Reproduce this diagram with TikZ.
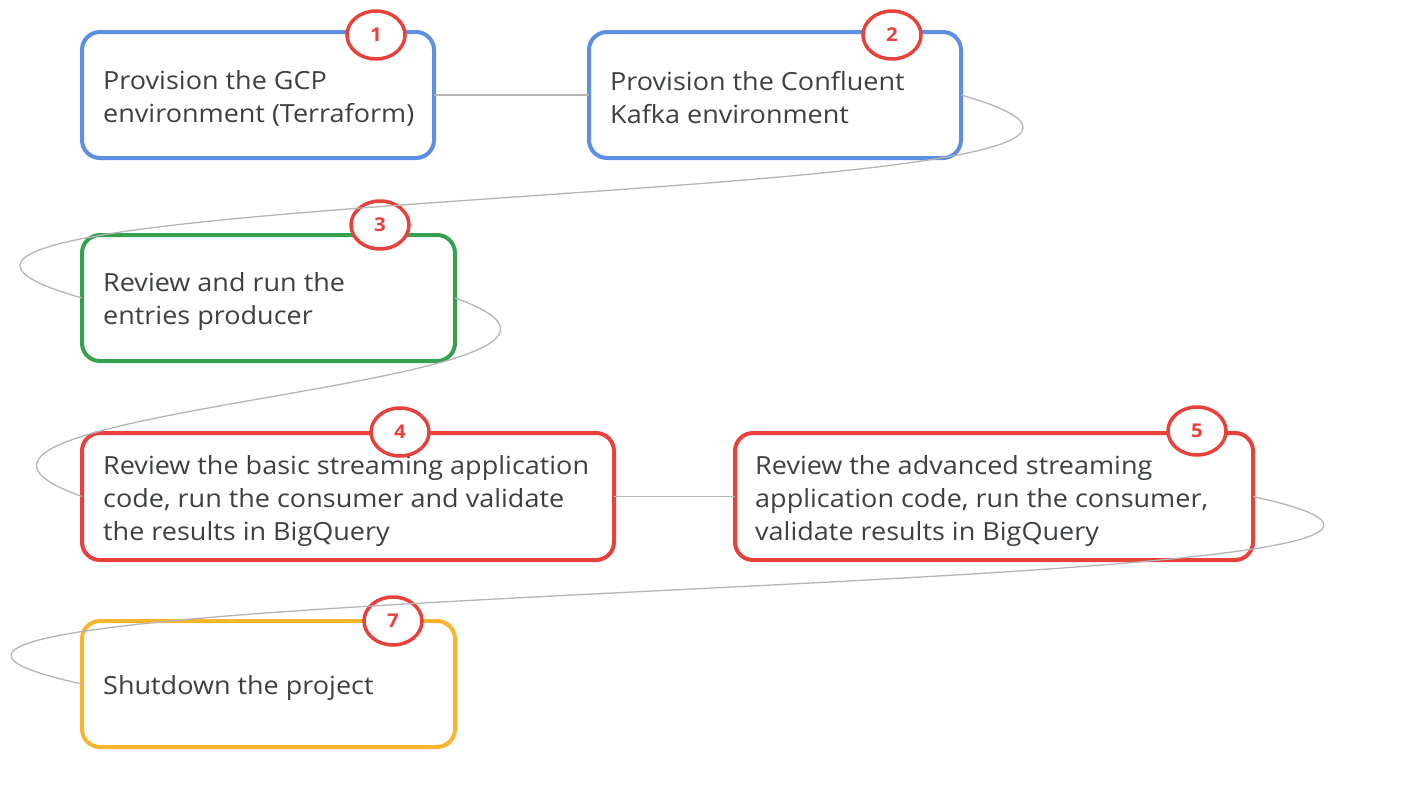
\documentclass[tikz,border=0pt]{standalone}
\usepackage{fontspec}
\setmainfont{Open Sans}[FakeStretch=1.08]
\usetikzlibrary{shapes.geometric}
\definecolor{gblue}{HTML}{5B8FE3}
\definecolor{ggreen}{HTML}{34A050}
\definecolor{gred}{HTML}{E8403A}
\definecolor{gyellow}{HTML}{F9B52C}
\definecolor{gtext}{HTML}{3C4043}
\definecolor{gline}{HTML}{B5B5B5}
\tikzset{
  stepbox/.style={draw, line width=4pt, rounded corners=18pt, fill=white, outer sep=0pt, inner sep=0pt},
  steptext/.style={anchor=west, align=left, inner sep=0pt, text=gtext, font=\fontsize{25}{33}\selectfont},
  badge/.style={ellipse, draw=gred, line width=3.5pt, fill=white, minimum width=58pt, minimum height=48pt, inner sep=0pt, text=gred, font=\fontsize{19}{22}\selectfont\bfseries},
  conn/.style={draw=gline, line width=1.3pt}
}
\begin{document}
\begin{tikzpicture}[x=1pt,y=-1pt]
\useasboundingbox[fill=white] (0,0) rectangle (1422,790);
% boxes
\node[stepbox, draw=gblue, minimum width=352pt, minimum height=126pt] (n1) at (258,95) {};
\node[stepbox, draw=gblue, minimum width=372pt, minimum height=126pt] (n2) at (775,95) {};
\node[stepbox, draw=ggreen, minimum width=373pt, minimum height=126pt] (n3) at (268.5,298) {};
\node[stepbox, draw=gred, minimum width=532pt, minimum height=127pt] (n4) at (348,496.5) {};
\node[stepbox, draw=gred, minimum width=518pt, minimum height=127pt] (n5) at (994,496.5) {};
\node[stepbox, draw=gyellow, minimum width=373pt, minimum height=126pt] (n7) at (268.5,684) {};
% texts
\node[steptext] (t1) at (103,98) {Provision the GCP\\environment (Terraform)};
\node[steptext] (t2) at (610,98) {Provision the Confluent\\Kafka environment};
\node[steptext] (t3) at (103,302) {Review and run the\\entries producer};
\node[steptext] (t4) at (103,501) {Review the basic streaming application\\code, run the consumer and validate\\the results in BigQuery};
\node[steptext] (t5) at (755,501) {Review the advanced streaming\\application code, run the consumer,\\validate results in BigQuery};
\node[steptext] (t7) at (103,688) {Shutdown the project};
% badges
\node[badge] (b1) at (376,35) {1};
\node[badge] (b2) at (892,35) {2};
\node[badge] (b3) at (380,225) {3};
\node[badge] (b4) at (400,432) {4};
\node[badge] (b5) at (1197,431) {5};
\node[badge] (b7) at (393,621) {7};
% connectors
\draw[conn] (n1.east) -- (n2.west);
\draw[conn] (n2.east) .. controls +(400,114) and +(-400,-114) .. (n3.west);
\draw[conn] (n3.east) .. controls +(250,89) and +(-250,-89) .. (n4.west);
\draw[conn] (n4.east) -- (n5.west);
\draw[conn] (n5.east) .. controls +(480,105) and +(-480,-105) .. (n7.west);
\end{tikzpicture}
\end{document}
